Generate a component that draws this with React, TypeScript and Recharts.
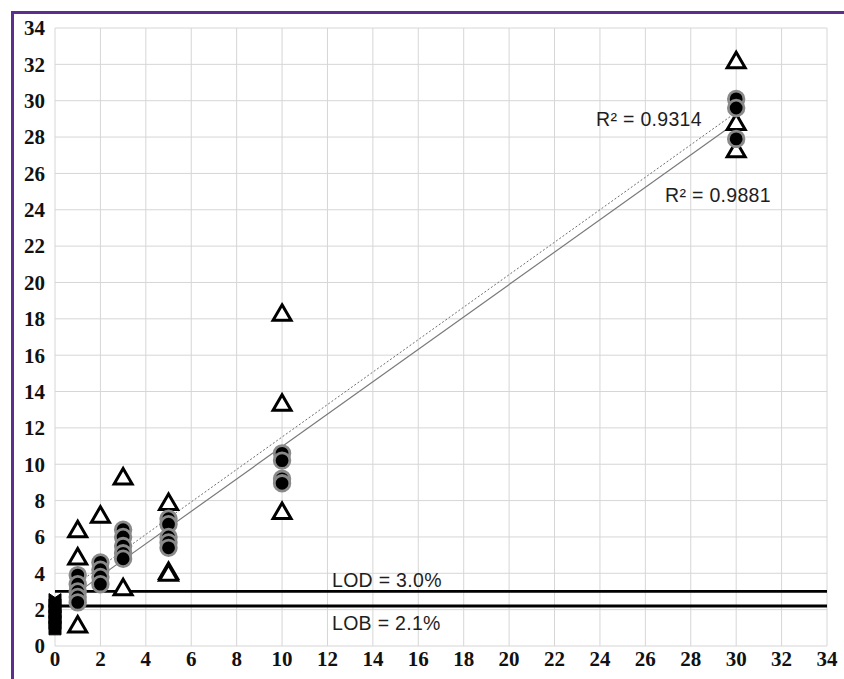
import {
  CartesianGrid,
  ReferenceDot,
  ReferenceLine,
  Scatter,
  ScatterChart,
  XAxis,
  YAxis,
} from 'recharts'

// concentration levels (x) and the measured values at each level
const levels = [1, 2, 3, 5, 10, 30]
const circleValues = [
  [3.9, 3.4, 3.0, 2.7, 2.4],
  [4.6, 4.2, 3.8, 3.4],
  [6.4, 6.0, 5.5, 5.1, 4.8],
  [7.0, 6.7, 6.0, 5.7, 5.4],
  [10.6, 10.2, 9.2, 8.95],
  [30.1, 29.6, 27.9],
]
const triangleValues = [
  [6.4, 4.9, 1.15],
  [7.2],
  [9.3, 3.2],
  [7.9, 4.1, 4.0],
  [18.3, 13.35, 7.4],
  [32.2, 28.8, 27.3],
]
// blank samples at x = 0
const blankValues = [2.5, 2.2, 1.9, 1.6, 1.3, 1.0]

const trendX = [1, 30]
const dottedTrend = [3.46, 29.36]
const solidTrend = [2.95, 28.8]

const lodValue = 3.0
const lobValue = 2.2

const axisTicks = [0, 2, 4, 6, 8, 10, 12, 14, 16, 18, 20, 22, 24, 26, 28, 30, 32, 34]

const circlePoints = levels.flatMap((x, i) => circleValues[i].map((y) => ({ x, y })))
const trianglePoints = levels.flatMap((x, i) => triangleValues[i].map((y) => ({ x, y })))
const blankPoints = blankValues.map((y) => ({ x: 0, y }))

const tickStyle = {
  fontFamily: "'Liberation Serif', 'Times New Roman', serif",
  fontWeight: 700,
  fontSize: 21,
  fill: '#111',
}

const noteStyle = {
  fontFamily: "'Liberation Sans', Arial, sans-serif",
  fontSize: 19.5,
  letterSpacing: 0.3,
  fill: '#1e1e1e',
}

const XTick = (props: any) => (
  <text x={props.x} y={props.y} dy="0.71em" textAnchor="middle" style={tickStyle}>
    {props.payload.value}
  </text>
)

const YTick = (props: any) => (
  <text x={props.x} y={props.y} dy="0.35em" textAnchor="end" style={tickStyle}>
    {props.payload.value}
  </text>
)

const CircleMark = (props: any) => (
  <circle cx={props.cx} cy={props.cy} r={7.8} fill="#000" stroke="#8a8a8a" strokeWidth={2.8} />
)

const TriangleMark = (props: any) => {
  const { cx, cy } = props
  return (
    <polygon
      points={`${cx},${cy - 8.5} ${cx + 9},${cy + 7} ${cx - 9},${cy + 7}`}
      fill="#fff"
      stroke="#000"
      strokeWidth={3}
    />
  )
}

const BlankMark = (props: any) => {
  const { cx, cy } = props
  return (
    <polygon
      points={`${cx - 6},${cy - 7} ${cx},${cy - 3} ${cx + 6},${cy - 7} ${cx + 6},${cy + 7} ${cx - 6},${cy + 7}`}
      fill="#000"
      stroke="#000"
      strokeWidth={1}
    />
  )
}

const note = (text: string) => (props: any) => (
  <text x={props.cx} y={props.cy} style={noteStyle}>
    {text}
  </text>
)

export default function App() {
  return (
    <div style={{ position: 'absolute', left: 0, top: 0, width: 844, height: 679, background: '#fff' }}>
      <div
        style={{
          position: 'absolute',
          left: 11,
          top: 11,
          width: 844,
          height: 679,
          borderLeft: '3px solid #5c2f8f',
          borderTop: '3px solid #5c2f8f',
        }}
      />
      <div style={{ position: 'absolute', left: 0, top: 0 }}>
        <ScatterChart width={844} height={679} margin={{ top: 28, right: 17, bottom: 0, left: 0 }}>
          <CartesianGrid stroke="#d6d6d6" strokeWidth={1} />
          <XAxis
            type="number"
            dataKey="x"
            domain={[0, 34]}
            ticks={axisTicks}
            interval={0}
            height={33}
            axisLine={false}
            tickLine={false}
            tickSize={0}
            tickMargin={5}
            tick={XTick}
          />
          <YAxis
            type="number"
            dataKey="y"
            domain={[0, 34]}
            ticks={axisTicks}
            interval={0}
            width={55}
            axisLine={false}
            tickLine={false}
            tickSize={0}
            tickMargin={10}
            tick={YTick}
          />
          <ReferenceLine y={lodValue} stroke="#000" strokeWidth={2.8} />
          <ReferenceLine y={lobValue} stroke="#000" strokeWidth={2.8} />
          <Scatter data={trianglePoints} shape={TriangleMark} isAnimationActive={false} />
          <Scatter data={blankPoints} shape={BlankMark} isAnimationActive={false} />
          <Scatter data={circlePoints} shape={CircleMark} isAnimationActive={false} />
          <ReferenceLine
            segment={[
              { x: trendX[0], y: dottedTrend[0] },
              { x: trendX[1], y: dottedTrend[1] },
            ]}
            stroke="#6e6e6e"
            strokeWidth={1}
            strokeDasharray="2 2"
          />
          <ReferenceLine
            segment={[
              { x: trendX[0], y: solidTrend[0] },
              { x: trendX[1], y: solidTrend[1] },
            ]}
            stroke="#7a7a7a"
            strokeWidth={1.2}
          />
          <ReferenceDot x={12.2} y={3.26} r={0} shape={note('LOD = 3.0%')} />
          <ReferenceDot x={12.2} y={0.88} r={0} shape={note('LOB = 2.1%')} />
          <ReferenceDot x={23.83} y={28.6} r={0} shape={note('R² = 0.9314')} />
          <ReferenceDot x={26.87} y={24.44} r={0} shape={note('R² = 0.9881')} />
        </ScatterChart>
      </div>
    </div>
  )
}
